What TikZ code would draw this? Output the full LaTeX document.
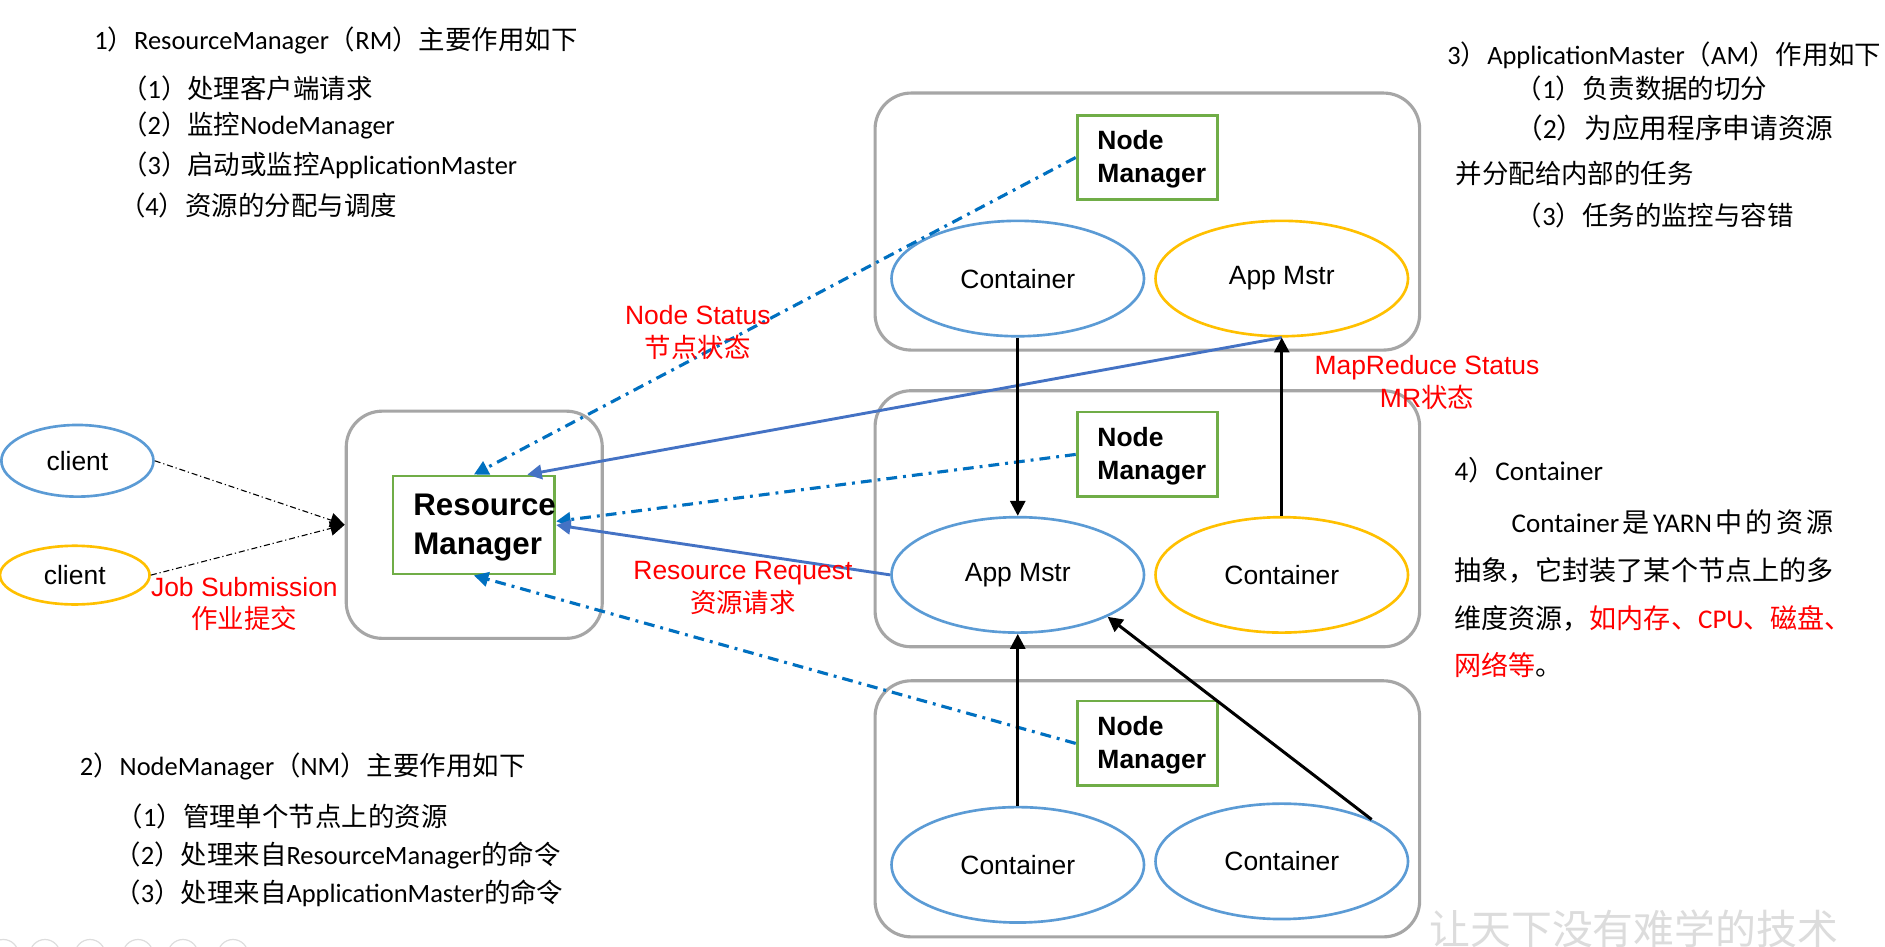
\documentclass[tikz,border=0pt]{standalone}
\usepackage{fontspec}
\setmainfont{Liberation Sans}
\newfontfamily\cjkfont{Noto Sans CJK SC}
\newfontfamily\calfont{Carlito}
\usetikzlibrary{arrows.meta,shapes.geometric}
\newcommand\zh[1]{{\cjkfont #1}}
\newcommand\lat[1]{{\calfont #1}}
\definecolor{boxgray}{HTML}{A6A6A6}
\definecolor{mgrgreen}{HTML}{70AD47}
\definecolor{ellblue}{HTML}{5B9BD5}
\definecolor{ellorange}{HTML}{FFC000}
\definecolor{arrblue}{HTML}{4472C4}
\definecolor{dashblue}{HTML}{0070C0}
\definecolor{textred}{HTML}{FF0000}
\definecolor{wmgray}{HTML}{DCDCDC}
\definecolor{navgray}{HTML}{DDDDDD}
\begin{document}
\begin{tikzpicture}[x=0.5pt,y=-0.5pt,
  grp/.style={draw=boxgray,line width=1.3pt,rounded corners=15pt,minimum width=226.5pt,inner sep=0pt},
  rmgrp/.style={draw=boxgray,line width=1.3pt,rounded corners=15pt,minimum width=106.5pt,minimum height=94.5pt,inner sep=0pt},
  mgr/.style={draw=mgrgreen,line width=1.2pt,minimum width=58.4pt,minimum height=35.25pt,inner sep=0pt},
  rmbox/.style={draw=mgrgreen,line width=1.2pt,minimum width=67.25pt,minimum height=40.75pt,inner sep=0pt},
  mgrtext/.style={anchor=west,align=left,inner sep=0pt,font=\fontsize{11}{13.5}\selectfont\bfseries},
  rmtext/.style={anchor=west,align=left,inner sep=0pt,font=\fontsize{13}{16.2}\selectfont\bfseries},
  ell/.style={ellipse,line width=1.1pt,minimum width=105pt,minimum height=48pt,inner sep=0pt,font=\fontsize{11}{13}\selectfont},
  blueell/.style={ell,draw=ellblue},
  orangeell/.style={ell,draw=ellorange},
  blk/.style={draw=black,line width=1.25pt,-{Triangle[length=6.2pt,width=6.2pt]}},
  bsolid/.style={draw=arrblue,line width=1.2pt,-{Triangle[length=6pt,width=6pt]}},
  bdash/.style={draw=dashblue,line width=1.3pt,dash pattern=on 4.5pt off 2.5pt on 1.2pt off 2.5pt,-{Triangle[length=6pt,width=6pt]}},
  clientline/.style={draw=black,line width=0.45pt,dash pattern=on 2.5pt off 1.2pt on 0.5pt off 1.2pt,-{Triangle[length=6pt,width=6pt]}},
  redlab/.style={text=textred,align=center,inner sep=0pt,font=\fontsize{11}{13.5}\selectfont},
  txt/.style={anchor=west,inner sep=0pt,font=\fontsize{11}{13}\selectfont},
  txtb/.style={anchor=west,inner sep=0pt,font=\fontsize{11.25}{13}\selectfont}
]
\fill[white] (0,0) rectangle (1568,787.7);
\useasboundingbox (0,0) rectangle (1568,787.7);

% slide navigation circles (faint, mostly cut off)
\foreach \cx in {2.8,37.4,74.9,114.8,152.2,193.8}
  \draw[navgray,line width=0.5pt] (\cx,794) circle (6.25pt);

% watermark
\node[inner sep=0pt,text=wmgray,font=\fontsize{17}{17}\selectfont] (wm) at (1359,773) {\zh{让天下没有难学的技术}};

% group boxes
\node[rmgrp] (rmout) at (394.5,436.5) {};
\node[grp,minimum height=106.9pt] (g1) at (954.4,184.3) {};
\node[grp,minimum height=106.5pt] (g2) at (954.4,431.5) {};
\node[grp,minimum height=106.5pt] (g3) at (954.4,672.8) {};

% resource manager
\node[rmbox] (rm) at (394.2,436.7) {};
\node[rmtext] (rmt) at (343.5,438.5) {Resource\\Manager};

% node managers
\node[mgr] (nm1) at (954.4,131) {};
\node[mgrtext] (nm1t) at (912.5,132.5) {Node\\Manager};
\node[mgr] (nm2) at (954.4,378) {};
\node[mgrtext] (nm2t) at (912.5,379.5) {Node\\Manager};
\node[mgr] (nm3) at (954.4,618.4) {};
\node[mgrtext] (nm3t) at (912.5,619.9) {Node\\Manager};

% ellipses
\node[blueell] (ct1) at (846.6,231.7) {Container};
\node[orangeell] (am1) at (1066.2,231.7) {App Mstr};
\node[blueell] (am2) at (846.6,478.2) {App Mstr};
\node[orangeell] (ct2) at (1066.2,478.2) {Container};
\node[blueell] (bc1) at (846.6,719.4) {Container};
\node[blueell] (bc2) at (1066.2,716.5) {Container};

% clients
\node[blueell,minimum width=63.25pt,minimum height=29.8pt] (cl1) at (64.4,383.3) {client};
\node[orangeell,minimum width=62.2pt,minimum height=24.4pt] (cl2) at (62.2,478.4) {client};

% connectors
\draw[clientline] (cl1.east) -- (rmout.west);
\draw[clientline] (cl2.east) -- (rmout.west);

\draw[bdash] (nm1.west) -- (rm.north);
\draw[bsolid] (am1.south) -- ([xshift=-12pt]rm.north east);
\draw[bdash] (nm2.west) -- ([yshift=1.5pt]rm.east);
\draw[bsolid] (am2.west) -- (rm.east);
\draw[bdash] (nm3.west) -- (rm.south);

\draw[blk] (ct1.south) -- (am2.north);
\draw[blk] (ct2.north) -- (am1.south);
\draw[blk] (bc1.north) -- (am2.south);
\draw[blk] (bc2.25) -- (am2.-25);

% red labels
\node[redlab] (lns) at (580.5,276.5) {Node Status\\\zh{节点状态}};
\node[redlab] (lmr) at (1187,318) {MapReduce Status\\MR\zh{状态}};
\node[redlab] (lrr) at (618,489) {Resource Request\\\zh{资源请求}};
\node[redlab] (ljs) at (203.3,502.2) {Job Submission\\\zh{作业提交}};

% text block 1
\node[txt] (t1a) at (78,33.3) {\lat{1}\zh{）}\lat{ResourceManager}\zh{（}\lat{RM}\zh{）主要作用如下}};
\node[txt] (t1b) at (100.4,73.5) {\zh{（}\lat{1}\zh{）处理客户端请求}};
\node[txt] (t1c) at (100.4,104) {\zh{（}\lat{2}\zh{）监控}\lat{NodeManager}};
\node[txt] (t1d) at (100.4,137.3) {\zh{（}\lat{3}\zh{）启动或监控}\lat{ApplicationMaster}};
\node[txt] (t1e) at (98.6,170.5) {\zh{（}\lat{4}\zh{）资源的分配与调度}};

% text block 2
\node[txt] (t2a) at (66,637.8) {\lat{2}\zh{）}\lat{NodeManager}\zh{（}\lat{NM}\zh{）主要作用如下}};
\node[txt] (t2b) at (96.7,679.4) {\zh{（}\lat{1}\zh{）管理单个节点上的资源}};
\node[txt] (t2c) at (94.8,711.3) {\zh{（}\lat{2}\zh{）处理来自}\lat{ResourceManager}\zh{的命令}};
\node[txt] (t2d) at (94.8,743.2) {\zh{（}\lat{3}\zh{）处理来自}\lat{ApplicationMaster}\zh{的命令}};

% text block 3
\node[txt] (t3a) at (1203.6,45.8) {\lat{3}\zh{）}\lat{ApplicationMaster}\zh{（}\lat{AM}\zh{）作用如下}};
\node[txt] (t3b) at (1260.5,73.5) {\zh{（}\lat{1}\zh{）负责数据的切分}};
\node[txt,font=\fontsize{11.5}{13}\selectfont] (t3c) at (1260,106.8) {\zh{（}\lat{2}\zh{）为应用程序申请资源}};
\node[txt] (t3d) at (1210.5,144.2) {\zh{并分配给内部的任务}};
\node[txt] (t3e) at (1260.5,178.9) {\zh{（}\lat{3}\zh{）任务的监控与容错}};

% text block 4
\node[txtb] (t4a) at (1209.6,391) {\lat{4}\zh{）}\lat{Container}};
\node[txtb] (t4b) at (1257,434) {\makebox[134pt][s]{\lat{Container}\hfil\zh{是}\hfil\lat{YARN}\hfil\zh{中}\hfil\zh{的}\hfil\zh{资}\hfil\zh{源}}};
\node[txtb] (t4c) at (1209.6,474.2) {\zh{抽象，它封装了某个节点上的多}};
\node[txtb] (t4d) at (1209.6,514.4) {\zh{维度资源，}\textcolor{textred}{\zh{如内存、}\lat{CPU}\zh{、磁盘、}}};
\node[txtb] (t4e) at (1209.6,553.2) {\textcolor{textred}{\zh{网络等}}\zh{。}};
\end{tikzpicture}
\end{document}
